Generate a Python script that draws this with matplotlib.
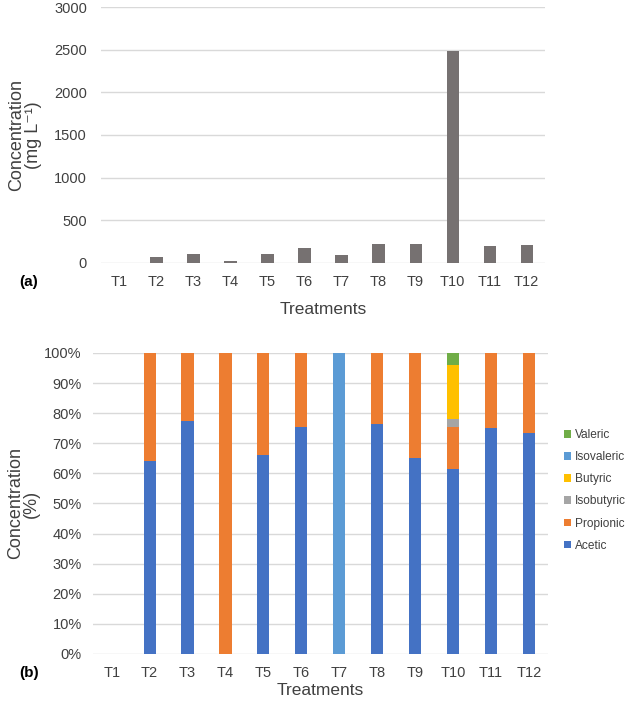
import matplotlib
matplotlib.use("Agg")
import matplotlib.pyplot as plt
import numpy as np

plt.rcParams['font.family'] = ['Liberation Sans', 'DejaVu Sans']

treatments = ['T1', 'T2', 'T3', 'T4', 'T5', 'T6', 'T7', 'T8', 'T9', 'T10', 'T11', 'T12']
total_conc = [0, 75, 100, 25, 110, 170, 95, 225, 225, 2480, 195, 205]

acetic     = [0, 64.0, 77.5, 0, 66.0, 75.5, 0, 76.5, 65.0, 61.5, 75.0, 73.5]
propionic  = [0, 36.0, 22.5, 100, 34.0, 24.5, 0, 23.5, 35.0, 14.0, 25.0, 26.5]
isobutyric = [0, 0, 0, 0, 0, 0, 0, 0, 0, 2.5, 0, 0]
butyric    = [0, 0, 0, 0, 0, 0, 0, 0, 0, 18.0, 0, 0]
isovaleric = [0, 0, 0, 0, 0, 0, 100, 0, 0, 0, 0, 0]
valeric    = [0, 0, 0, 0, 0, 0, 0, 0, 0, 4.0, 0, 0]

series_names = ['Acetic', 'Propionic', 'Isobutyric', 'Butyric', 'Isovaleric', 'Valeric']
series_vals = [acetic, propionic, isobutyric, butyric, isovaleric, valeric]
colors = ['#4472C4', '#ED7D31', '#A5A5A5', '#FFC000', '#5B9BD5', '#70AD47']

fig = plt.figure(figsize=(6.31, 7.02), dpi=100)
grid_c = '#D9D9D9'
txt_c = '#404040'
x = np.arange(len(treatments))

# ---- Panel (a)
ax1 = fig.add_axes([0.160, 0.6254, 0.704, 0.3646])
ax1.bar(x, total_conc, width=0.33, color='#767171', zorder=3)
ax1.set_ylim(0, 3000)
ax1.set_xlim(-0.5, len(treatments) - 0.5)
ax1.set_yticks(np.arange(0, 3001, 500))
ax1.set_xticks(x)
ax1.set_xticklabels(treatments)
ax1.grid(axis='y', color=grid_c, linewidth=1.0, zorder=0)
for s in ax1.spines.values():
    s.set_visible(False)
ax1.tick_params(length=0, labelsize=10.5, labelcolor=txt_c, pad=9)
ax1.tick_params(axis='y', pad=10)
ax1.set_xlabel('Treatments', fontsize=12.5, color=txt_c, labelpad=9)
ax1.set_ylabel('Concentration\n(mg L⁻¹)', fontsize=13, color=txt_c, linespacing=0.95)
ax1.yaxis.set_label_coords(-0.133, 0.5)
fig.text(0.03, 1 - 282 / 702, '(a)', fontsize=11, fontweight='bold', va='center', ha='left')

# ---- Panel (b)
ax2 = fig.add_axes([0.147, 0.0684, 0.721, 0.4288])
bottom = np.zeros(len(treatments))
for name, vals, c in zip(series_names, series_vals, colors):
    v = np.array(vals, dtype=float)
    ax2.bar(x, v, width=0.32, bottom=bottom, color=c, label=name, zorder=3)
    bottom += v
ax2.set_ylim(0, 100)
ax2.set_xlim(-0.5, len(treatments) - 0.5)
ax2.set_yticks(np.arange(0, 101, 10))
ax2.set_yticklabels([f'{v}%' for v in range(0, 101, 10)])
ax2.set_xticks(x)
ax2.set_xticklabels(treatments)
ax2.grid(axis='y', color=grid_c, linewidth=1.0, zorder=0)
for s in ax2.spines.values():
    s.set_visible(False)
ax2.tick_params(length=0, labelsize=10.5, labelcolor=txt_c, pad=9)
ax2.tick_params(axis='y', pad=8)
ax2.set_xlabel('Treatments', fontsize=12.5, color=txt_c, labelpad=2)
ax2.set_ylabel('Concentration\n(%)', fontsize=13, color=txt_c, linespacing=0.95)
ax2.yaxis.set_label_coords(-0.116, 0.5)
fig.text(0.03, 1 - 673 / 702, '(b)', fontsize=11, fontweight='bold', va='center', ha='left')

handles, labels = ax2.get_legend_handles_labels()
leg = fig.legend(handles[::-1], labels[::-1], loc='upper left',
                 bbox_to_anchor=(564 / 631, 1 - 429 / 702), frameon=False,
                 fontsize=8.6, handlelength=0.6, handleheight=0.6,
                 handletextpad=0.3, labelspacing=0.85, borderaxespad=0,
                 borderpad=0)
for t in leg.get_texts():
    t.set_color(txt_c)

fig.savefig('out.png', dpi=100)
